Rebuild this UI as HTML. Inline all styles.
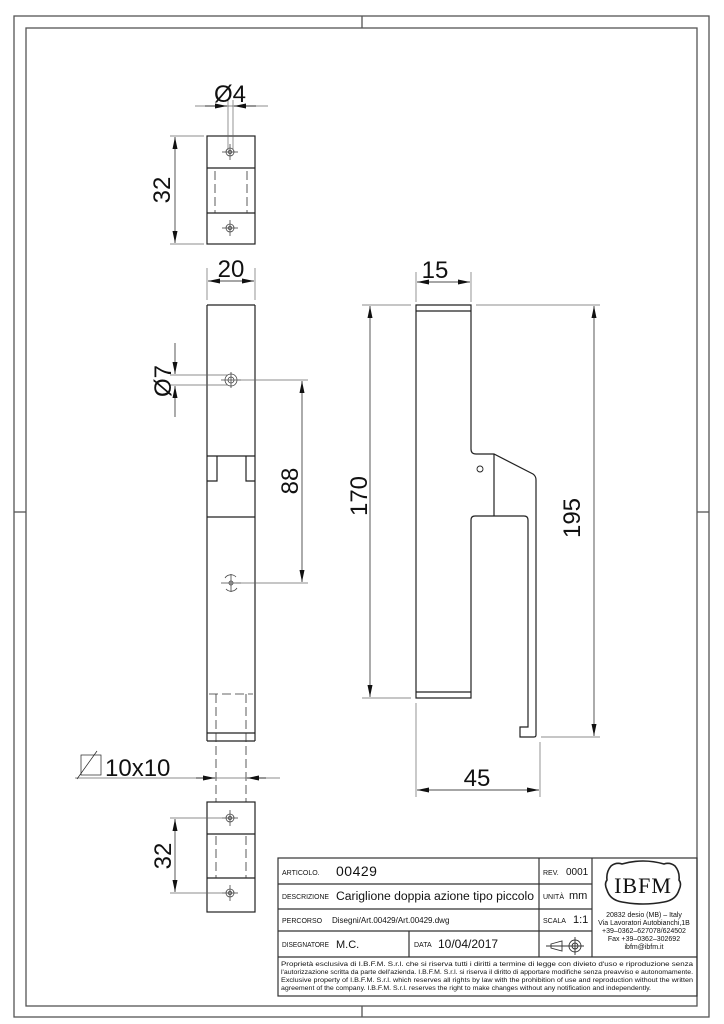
<!DOCTYPE html>
<html><head><meta charset="utf-8"><style>
html,body{margin:0;padding:0;background:#fff}
svg{display:block}
text{font-family:"Liberation Sans",sans-serif;fill:#111}
</style></head><body>
<svg width="724" height="1024" viewBox="0 0 724 1024" xmlns="http://www.w3.org/2000/svg">
<defs>
<marker id="a" viewBox="0 0 12 5" refX="12" refY="2.5" markerWidth="12" markerHeight="5" orient="auto-start-reverse" markerUnits="userSpaceOnUse"><path d="M0,0 L12,2.5 L0,5z" fill="#111"/></marker>
</defs>
<g fill="none" stroke="#555" stroke-width="1.3">
<rect x="14" y="16" width="695" height="1001"/>
<rect x="26" y="28" width="671" height="978"/>
<line x1="362" y1="16" x2="362" y2="28"/><line x1="362" y1="1006" x2="362" y2="1017"/>
<line x1="14" y1="512" x2="26" y2="512"/><line x1="697" y1="512" x2="709" y2="512"/>
</g>

<g fill="none" stroke="#222" stroke-width="1.2">
<rect x="207" y="136" width="48" height="108"/>
<line x1="207" y1="168" x2="255" y2="168"/><line x1="207" y1="213" x2="255" y2="213"/>
</g>
<g stroke="#333" stroke-width="0.8" stroke-dasharray="9,4">
<line x1="215" y1="171" x2="215" y2="213"/><line x1="247" y1="171" x2="247" y2="213"/>
</g>
<g fill="none" stroke="#444" stroke-width="0.8">
<circle cx="230" cy="152" r="4"/><circle cx="230" cy="152" r="1.8"/>
<line x1="222" y1="152" x2="238" y2="152"/><line x1="230" y1="144" x2="230" y2="160"/>
<circle cx="230" cy="228" r="4"/><circle cx="230" cy="228" r="1.8"/>
<line x1="222" y1="228" x2="238" y2="228"/><line x1="230" y1="220" x2="230" y2="236"/>
</g>
<g stroke="#666" stroke-width="0.7" fill="none">
<line x1="228" y1="100" x2="228" y2="150"/><line x1="233" y1="100" x2="233" y2="150"/>
<line x1="195" y1="106" x2="268" y2="106"/>
<line x1="205" y1="106" x2="227" y2="106" marker-end="url(#a)" stroke="#111"/>
<line x1="256" y1="106" x2="234" y2="106" marker-end="url(#a)" stroke="#111"/>
<line x1="170" y1="136" x2="204" y2="136"/><line x1="170" y1="244" x2="204" y2="244"/>
<line x1="175" y1="137" x2="175" y2="243" marker-start="url(#a)" marker-end="url(#a)" stroke="#111"/>
</g>
<text x="230" y="102" font-size="24" text-anchor="middle">Ø4</text>
<text transform="translate(170,190) rotate(-90)" font-size="24" text-anchor="middle">32</text>

<g stroke="#666" stroke-width="0.7" fill="none">
<line x1="207" y1="268" x2="207" y2="300"/><line x1="255" y1="268" x2="255" y2="300"/>
<line x1="208" y1="281" x2="254" y2="281" marker-start="url(#a)" marker-end="url(#a)" stroke="#111"/>
</g>
<text x="231" y="277" font-size="24" text-anchor="middle">20</text>

<g fill="none" stroke="#222" stroke-width="1.2">
<line x1="207" y1="305" x2="255" y2="305"/>
<line x1="207" y1="305" x2="207" y2="741"/><line x1="255" y1="305" x2="255" y2="741"/>
<line x1="207" y1="456" x2="255" y2="456"/>
<polyline points="207,481 217,481 217,456"/><polyline points="255,481 246,481 246,456"/>
<line x1="207" y1="517" x2="255" y2="517"/>
<line x1="207" y1="733" x2="255" y2="733"/><line x1="207" y1="741" x2="255" y2="741"/>
</g>
<g stroke="#333" stroke-width="0.8" stroke-dasharray="9,4">
<line x1="209" y1="694" x2="253" y2="694"/>
<line x1="216" y1="694" x2="216" y2="802"/><line x1="246" y1="694" x2="246" y2="802"/>
</g>
<g fill="none" stroke="#444" stroke-width="0.8">
<circle cx="231" cy="380" r="6"/><circle cx="231" cy="380" r="3"/>
<line x1="221" y1="380" x2="241" y2="380"/><line x1="231" y1="372" x2="231" y2="388"/>
<path d="M225,578 A7,7 0 0 1 236,577 M237,588 A7,7 0 0 1 226,589"/>
<circle cx="231" cy="583" r="2"/>
<line x1="221" y1="583" x2="241" y2="583"/><line x1="231" y1="574" x2="231" y2="592"/>
</g>
<g stroke="#666" stroke-width="0.7" fill="none">
<line x1="170" y1="375" x2="228" y2="375"/><line x1="170" y1="385" x2="228" y2="385"/>
<line x1="175" y1="343" x2="175" y2="374" marker-end="url(#a)" stroke="#111"/>
<line x1="175" y1="417" x2="175" y2="386" marker-end="url(#a)" stroke="#111"/>
<line x1="236" y1="380" x2="308" y2="380"/><line x1="236" y1="583" x2="308" y2="583"/>
<line x1="302" y1="381" x2="302" y2="582" marker-start="url(#a)" marker-end="url(#a)" stroke="#111"/>
</g>
<text transform="translate(171,381) rotate(-90)" font-size="24" text-anchor="middle">Ø7</text>
<text transform="translate(298,481) rotate(-90)" font-size="24" text-anchor="middle">88</text>

<g stroke="#666" stroke-width="0.7" fill="none">
<line x1="75" y1="778" x2="280" y2="778"/>
<line x1="196" y1="778" x2="215" y2="778" marker-end="url(#a)" stroke="#111"/>
<line x1="266" y1="778" x2="247" y2="778" marker-end="url(#a)" stroke="#111"/>
<rect x="81" y="755" width="20" height="20" stroke="#222"/>
<line x1="77" y1="779" x2="97" y2="751" stroke="#222"/>
</g>
<text x="105" y="776" font-size="24">10x10</text>

<g fill="none" stroke="#222" stroke-width="1.2">
<rect x="207" y="802" width="48" height="110"/>
<line x1="207" y1="834" x2="255" y2="834"/><line x1="207" y1="878" x2="255" y2="878"/>
</g>
<g stroke="#333" stroke-width="0.8" stroke-dasharray="9,4">
<line x1="216" y1="836" x2="216" y2="878"/><line x1="246" y1="836" x2="246" y2="878"/>
</g>
<g fill="none" stroke="#444" stroke-width="0.8">
<circle cx="230" cy="818" r="4"/><circle cx="230" cy="818" r="1.8"/>
<line x1="222" y1="818" x2="238" y2="818"/><line x1="230" y1="810" x2="230" y2="826"/>
<circle cx="230" cy="893" r="4"/><circle cx="230" cy="893" r="1.8"/>
<line x1="222" y1="893" x2="238" y2="893"/><line x1="230" y1="885" x2="230" y2="901"/>
</g>
<g stroke="#666" stroke-width="0.7" fill="none">
<line x1="170" y1="818" x2="222" y2="818"/><line x1="170" y1="893" x2="222" y2="893"/>
<line x1="175" y1="819" x2="175" y2="892" marker-start="url(#a)" marker-end="url(#a)" stroke="#111"/>
</g>
<text transform="translate(171,856) rotate(-90)" font-size="24" text-anchor="middle">32</text>

<g fill="none" stroke="#222" stroke-width="1.2">
<path d="M416,305 H471 V449 Q471,454 476,454 H494 L533,474 Q536,476 536,480 V735 Q536,737 534,737 H520 V727 H528 V520 Q528,516 524,516 H475 Q471,516 471,520 V698 H416 Z"/>
<line x1="416" y1="311" x2="471" y2="311"/><line x1="416" y1="692" x2="471" y2="692"/>
<line x1="494" y1="454" x2="494" y2="516"/>
<circle cx="480" cy="469" r="3" stroke-width="0.9"/>
</g>
<g stroke="#666" stroke-width="0.7" fill="none">
<line x1="416" y1="272" x2="416" y2="302"/><line x1="471" y1="272" x2="471" y2="302"/>
<line x1="417" y1="282" x2="470" y2="282" marker-start="url(#a)" marker-end="url(#a)" stroke="#111"/>
<line x1="362" y1="305" x2="411" y2="305"/><line x1="476" y1="305" x2="600" y2="305"/>
<line x1="362" y1="698" x2="411" y2="698"/>
<line x1="541" y1="737" x2="600" y2="737"/>
<line x1="370" y1="306" x2="370" y2="697" marker-start="url(#a)" marker-end="url(#a)" stroke="#111"/>
<line x1="594" y1="306" x2="594" y2="736" marker-start="url(#a)" marker-end="url(#a)" stroke="#111"/>
<line x1="416" y1="703" x2="416" y2="797"/><line x1="540" y1="742" x2="540" y2="797"/>
<line x1="417" y1="790" x2="539" y2="790" marker-start="url(#a)" marker-end="url(#a)" stroke="#111"/>
</g>
<text x="435" y="278" font-size="24" text-anchor="middle">15</text>
<text transform="translate(367,496) rotate(-90)" font-size="24" text-anchor="middle">170</text>
<text transform="translate(580,518) rotate(-90)" font-size="24" text-anchor="middle">195</text>
<text x="477" y="786" font-size="24" text-anchor="middle">45</text>

<g fill="none" stroke="#333" stroke-width="1.2">
<rect x="278" y="858" width="419" height="138"/>
<line x1="278" y1="884" x2="592" y2="884"/>
<line x1="278" y1="909" x2="592" y2="909"/>
<line x1="278" y1="931" x2="592" y2="931"/>
<line x1="278" y1="957" x2="697" y2="957"/>
<line x1="539" y1="858" x2="539" y2="957"/>
<line x1="592" y1="858" x2="592" y2="957"/>
<line x1="409" y1="931" x2="409" y2="957"/>
</g>
<g font-size="7">
<text x="282" y="875">ARTICOLO.</text>
<text x="282" y="899" textLength="47" lengthAdjust="spacingAndGlyphs">DESCRIZIONE</text>
<text x="282" y="923">PERCORSO</text>
<text x="282" y="947" textLength="47" lengthAdjust="spacingAndGlyphs">DISEGNATORE</text>
<text x="414" y="947">DATA</text>
<text x="543" y="875">REV.</text>
<text x="543" y="899">UNITÀ</text>
<text x="543" y="923">SCALA</text>
</g>
<text x="336" y="876" font-size="14" fill="#333" letter-spacing="0.5">00429</text>
<text x="336" y="900" font-size="11.5" textLength="198" lengthAdjust="spacingAndGlyphs">Cariglione doppia azione tipo piccolo</text>
<text x="332" y="923" font-size="8">Disegni/Art.00429/Art.00429.dwg</text>
<text x="336" y="948" font-size="11">M.C.</text>
<text x="438" y="948" font-size="12">10/04/2017</text>
<text x="566" y="875" font-size="10">0001</text>
<text x="569" y="899" font-size="11">mm</text>
<text x="573" y="923" font-size="11">1:1</text>
<g fill="none" stroke="#333" stroke-width="0.9">
<path d="M551,944 L562,941 V951 L551,948 Z M546,946 H566"/>
<circle cx="575" cy="946" r="6"/><circle cx="575" cy="946" r="3"/>
<line x1="566" y1="946" x2="584" y2="946"/><line x1="575" y1="937" x2="575" y2="955"/>
</g>
<path d="M611,866 Q606,872 607,880 Q604,884 607,890 Q610,900 622,902 Q643,906 664,902 Q676,900 679,890 Q682,884 679,880 Q680,872 675,866 Q670,862 664,864 Q643,858 622,864 Q616,862 611,866 Z" fill="none" stroke="#222" stroke-width="1.6"/>
<text x="643" y="893" font-size="22" text-anchor="middle" style="font-family:'Liberation Serif',serif" letter-spacing="1">IBFM</text>
<g font-size="7" text-anchor="middle">
<text x="644" y="917">20832 desio (MB) – Italy</text>
<text x="644" y="925">Via Lavoratori Autobianchi,1B</text>
<text x="644" y="933">+39–0362–627078/624502</text>
<text x="644" y="941">Fax +39–0362–302692</text>
<text x="644" y="949">ibfm@ibfm.it</text>
</g>
<g font-size="6.6">
<text x="281" y="966" textLength="412" lengthAdjust="spacingAndGlyphs">Proprietà esclusiva di I.B.F.M. S.r.l. che si riserva tutti i diritti a termine di legge con divieto d'uso e riproduzione senza</text>
<text x="281" y="974" textLength="412" lengthAdjust="spacingAndGlyphs">l'autorizzazione scritta da parte dell'azienda. I.B.F.M. S.r.l. si riserva il diritto di apportare modifiche senza preavviso e autonomamente.</text>
<text x="281" y="982" textLength="412" lengthAdjust="spacingAndGlyphs">Exclusive property of I.B.F.M. S.r.l. which reserves all rights by law with the prohibition of use and reproduction without the written</text>
<text x="281" y="990" textLength="370" lengthAdjust="spacingAndGlyphs">agreement of the company. I.B.F.M. S.r.l. reserves the right to make changes without any notification and independently.</text>
</g>
</svg>
</body></html>
